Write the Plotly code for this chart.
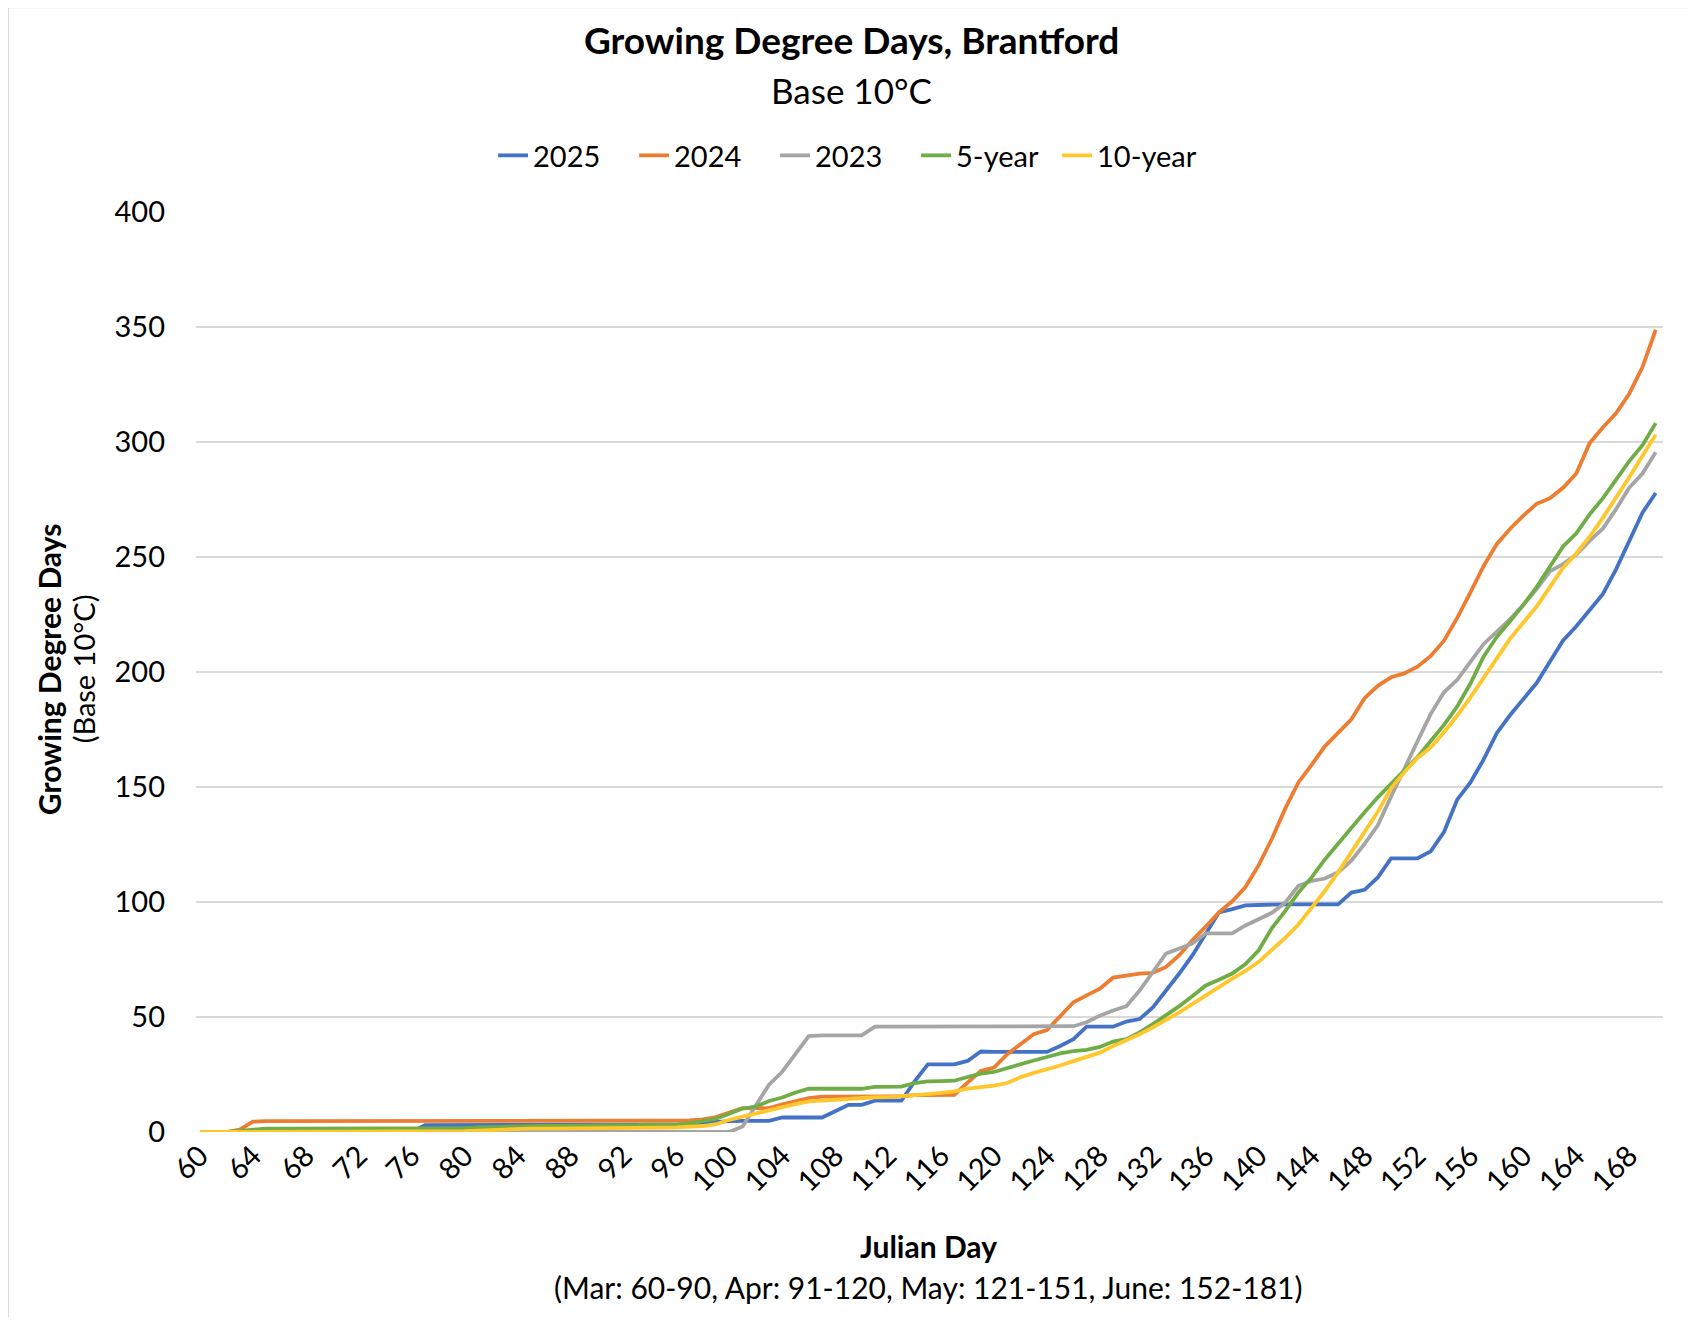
import plotly.graph_objects as go

days = list(range(60, 171))

gdd_2025 = [0]*17 + [3]*12 + [3.3]*9 + [4, 4.5, 4.7, 4.8, 4.8, 4.8, 6.3, 6.3, 6.3, 6.3, 9, 11.8, 11.8, 13.6, 13.6, 13.6,
            22, 29.4, 29.4, 29.4, 30.9, 35, 34.8, 34.8, 34.8, 34.8, 34.8, 37.4, 40.4, 45.8, 45.8, 45.8, 48, 49.1,
            54.2, 61.5, 68.9, 76.9, 86.4, 95.5, 96.9, 98.5, 98.7, 99, 99, 99, 99, 99, 99, 104.1, 105.3, 110.7,
            119, 119, 119, 122, 130.4, 144.5, 152, 162, 173.5, 181.3, 188.3, 195.2, 204.5, 213.7, 219.9, 226.9,
            233.8, 244.6, 257, 269.3, 277.8]

gdd_2024 = [0, 0, 0, 1, 4.5] + [4.7]*8 + [5.0]*25 + [5.5, 6.5, 8.5, 10.4, 10.4, 10.4, 12, 13.3, 14.7, 15.4,
            15.5, 15.5, 15.5, 15.5, 15.5, 15.5, 16, 16, 16, 16.2, 21.5, 26.5, 28, 33.8, 38.2, 42.5, 44.3, 50.6,
            56.4, 59.4, 62.3, 67.1, 68, 68.9, 69.2, 71.8, 76.9, 83.5, 89.3, 95.5, 100.3, 106.5, 116, 127.5,
            140.6, 152, 159.6, 167.7, 173.5, 179.4, 188.6, 194, 197.7, 199.4, 202.3, 207, 213.6, 223.5, 234.6,
            246.1, 255.7, 262.3, 268, 273.1, 275.5, 280.1, 286.3, 299.4, 306.3, 312.5, 321, 332.6, 348.8]

gdd_2023 = [0]*41 + [2.4, 11.8, 20.6, 26.2, 34, 41.7, 42, 42, 42, 42, 45.8, 45.8, 45.8, 45.8, 45.8, 45.8,
            45.8, 45.8, 45.8, 45.8, 45.8, 45.8, 45.8, 45.8, 45.8, 46, 47.7, 50.6, 52.8, 54.7, 61.5, 69.6, 77.6,
            79.8, 82, 86.4, 86.4, 86.4, 89.8, 92.4, 95.3, 99.7, 107, 109.2, 110.2, 112.9, 118, 125.3, 133.3,
            145.8, 158.2, 169.9, 181.8, 191.2, 196.6, 204.5, 212.2, 217.6, 223, 229.2, 236.1, 243.8, 246.9,
            251.1, 257, 262.3, 270.8, 280.1, 286.3, 295.5]

gdd_5yr = [0, 0, 0, 0.5, 1.2] + [1.5]*15 + [1.7, 2, 2.2, 2.5, 2.7, 2.7, 2.7, 2.7, 2.7, 3, 3, 3, 3, 3, 3.2,
           3.2, 3.2, 3.8, 4.8, 5.8, 7.9, 10.2, 11, 13.5, 15, 17.2, 18.8, 18.8, 18.8, 18.8, 18.8, 19.6, 19.6,
           19.7, 21.3, 22, 22.1, 22.3, 23.9, 25.4, 26.1, 27.9, 29.7, 31.1, 32.6, 34.2, 35.2, 35.7, 37, 39.3,
           40.4, 43.3, 46.9, 50.6, 54.7, 59.1, 63.7, 66.2, 68.9, 73, 79, 88.7, 96, 104.1, 110.7, 118.5, 125.5,
           132.5, 139, 145.5, 151.5, 157, 163, 170, 177, 185, 195, 206.8, 215.3, 222.2, 229.2, 236.9, 246.1,
           254.6, 260.3, 268.5, 275.5, 283.9, 291.7, 298.6, 308.2]

gdd_10yr = [0, 0, 0, 0.2] + [0.4]*17 + [0.6, 0.9, 1.1, 1.3, 1.5, 1.5, 1.5, 1.5, 1.5, 1.7, 1.7, 1.7, 1.7, 1.7,
            1.9, 2.0, 2.2, 2.6, 3.4, 5.3, 6.7, 8.2, 9.6, 10.8, 12.1, 13.3, 13.6, 14, 14.5, 14.8, 15.1, 15.2,
            15.5, 16.2, 16.5, 17, 17.7, 18.9, 19.5, 20.2, 21.3, 23.8, 25.7, 27.2, 28.9, 30.8, 32.6, 34.5, 37.4,
            39.9, 42.5, 45.5, 48.7, 52, 55.7, 59.4, 63, 66.7, 70, 74, 79.2, 84.4, 90.2, 97.5, 104.8, 112.9,
            121.9, 130.4, 139.2, 149.4, 156.4, 162.6, 167.2, 173.8, 181, 189, 197.5, 206, 214.5, 221.5, 228.4,
            236.9, 245.4, 251.5, 258.8, 267, 275.5, 284.7, 294, 303.2]

series_names = ["2025", "2024", "2023", "5-year", "10-year"]
series_values = [gdd_2025, gdd_2024, gdd_2023, gdd_5yr, gdd_10yr]
series_colors = ["#4472C4", "#ED7D31", "#A5A5A5", "#70AD47", "#FFC72C"]

x_tick_vals = list(range(60, 169, 4))
y_tick_vals = [0, 50, 100, 150, 200, 250, 300, 350, 400]

FONT = "Lato"
OFF = 8  # page body margin
SW, SH = 1697, 1325
W, H = SW - 2 * OFF, SH - 2 * OFF
# plot area in screenshot pixels
L, R, T, B = 196, 1655, 212, 1124

def px(x):
    return (x - L) / (R - L)

def py(y):
    return (B - y) / (B - T)

fig = go.Figure()
for name, vals, col in zip(series_names, series_values, series_colors):
    fig.add_trace(go.Scatter(x=days, y=vals, name=name, mode="lines",
                             line=dict(color=col, width=3.8)))

fig.update_layout(
    width=W, height=H,
    margin=dict(l=L - OFF, r=(SW - OFF) - R - OFF, t=T - OFF, b=(SH - OFF) - B - OFF, autoexpand=False),
    paper_bgcolor="white", plot_bgcolor="white",
    font=dict(family=FONT, color="black"),
    showlegend=True,
    legend=dict(orientation="h", x=px(842), y=py(156), xanchor="center", yanchor="middle",
                font=dict(size=29, family=FONT), itemwidth=30, tracegroupgap=0,
                entrywidth=96, entrywidthmode="pixels",
                bgcolor="rgba(0,0,0,0)"),
    xaxis=dict(range=[59.7, 170.55], tickmode="array", tickvals=x_tick_vals,
               ticktext=[str(v) for v in x_tick_vals], tickangle=-45,
               tickfont=dict(size=29, family=FONT), showgrid=False, zeroline=False,
               showline=False, ticks=""),
    yaxis=dict(range=[0, 400], tickmode="array", tickvals=y_tick_vals,
               tickfont=dict(size=29, family=FONT), showgrid=True, gridcolor="#D9D9D9",
               gridwidth=1.6, zeroline=False, showline=False, ticks="",
               ticklabelstandoff=30),
)

annotations = [
    dict(text="<b>Growing Degree Days, Brantford</b>", x=px(848), y=py(41), size=37),
    dict(text="Base 10°C", x=px(848), y=py(91), size=35),
    dict(text="<b>Julian Day</b>", x=px(925), y=py(1237), size=30),
    dict(text="(Mar: 60-90, Apr: 91-120, May: 121-151, June: 152-181)", x=px(925), y=py(1278), size=30),
]
for a in annotations:
    fig.add_annotation(text=a["text"], x=a["x"], y=a["y"], xref="paper", yref="paper",
                       showarrow=False, xanchor="center", yanchor="middle",
                       font=dict(size=a["size"], family=FONT, color="black"))

fig.add_annotation(text="<b>Growing Degree Days</b>", x=px(50), y=py(665), xref="paper", yref="paper",
                   showarrow=False, textangle=-90, xanchor="center", yanchor="middle",
                   font=dict(size=30, family=FONT, color="black"))
fig.add_annotation(text="(Base 10°C)", x=px(85), y=py(665), xref="paper", yref="paper",
                   showarrow=False, textangle=-90, xanchor="center", yanchor="middle",
                   font=dict(size=29, family=FONT, color="black"))

fig.add_shape(type="rect", xref="paper", yref="paper", x0=px(OFF + 1), x1=px(SW - OFF - 2),
              y0=py(SH - OFF - 2), y1=py(OFF + 1),
              line=dict(color="#D9D9D9", width=2), fillcolor="rgba(0,0,0,0)", layer="below")

fig.write_html("out.html")
